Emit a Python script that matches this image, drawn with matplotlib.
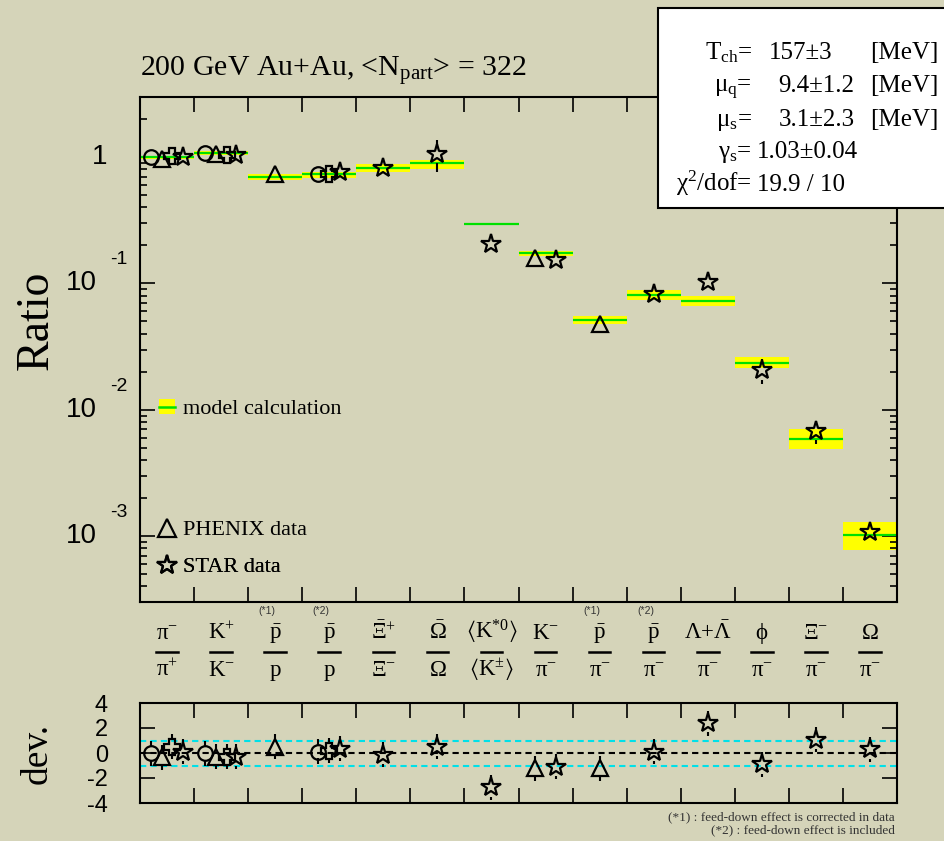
import numpy as np
import matplotlib
matplotlib.use('Agg')
import matplotlib.pyplot as plt
from matplotlib.patches import Rectangle, Patch
from matplotlib.lines import Line2D
from matplotlib.legend_handler import HandlerTuple
import matplotlib.transforms as mtransforms
import matplotlib.ticker as mticker

plt.rcParams['font.family'] = ['Liberation Serif', 'DejaVu Serif']
plt.rcParams['mathtext.fontset'] = 'custom'
plt.rcParams['mathtext.rm'] = 'Liberation Serif'
plt.rcParams['mathtext.it'] = 'Liberation Serif:italic'
plt.rcParams['mathtext.bf'] = 'Liberation Serif:bold'
plt.rcParams['mathtext.fallback'] = 'stix'

# ---------------- data ----------------
numerators = [r'$\mathrm{\pi^{-}}$', r'$\mathrm{K^{+}}$', r'$\mathrm{\bar{p}}$', r'$\mathrm{\bar{p}}$',
              r'$\mathrm{\bar{\Xi}^{+}}$', r'$\mathrm{\bar{\Omega}}$', r'$\mathrm{\langle K^{*0}\rangle}$',
              r'$\mathrm{K^{-}}$', r'$\mathrm{\bar{p}}$', r'$\mathrm{\bar{p}}$',
              r'$\mathrm{\Lambda{+}\bar{\Lambda}}$', r'$\mathrm{\phi}$', r'$\mathrm{\Xi^{-}}$', r'$\mathrm{\Omega}$']
denominators = [r'$\mathrm{\pi^{+}}$', r'$\mathrm{K^{-}}$', r'$\mathrm{p}$', r'$\mathrm{p}$',
                r'$\mathrm{\Xi^{-}}$', r'$\mathrm{\Omega}$', r'$\mathrm{\langle K^{\pm}\rangle}$',
                r'$\mathrm{\pi^{-}}$', r'$\mathrm{\pi^{-}}$', r'$\mathrm{\pi^{-}}$', r'$\mathrm{\pi^{-}}$',
                r'$\mathrm{\pi^{-}}$', r'$\mathrm{\pi^{-}}$', r'$\mathrm{\pi^{-}}$']
notes = ['', '', '(*1)', '(*2)', '', '', '', '', '(*1)', '(*2)', '', '', '', '']

model = [1.00, 1.076, 0.70, 0.73, 0.82, 0.90, 0.298, 0.173, 0.0518, 0.0807, 0.073, 0.0236, 0.00589, 0.00101]
band_lo = [0.975, 1.037, 0.665, 0.690, 0.764, 0.813, 0.298, 0.164, 0.0479, 0.0737, 0.0661, 0.0213, 0.0049, 0.000778]
band_hi = [1.027, 1.122, 0.733, 0.770, 0.885, 0.959, 0.298, 0.182, 0.0557, 0.0896, 0.0803, 0.0262, 0.00703, 0.00129]

# experiment: circle
circ_cat = [0, 1, 3]
circ_off = [0.2, 0.2, 0.3]
circ_val = [1.00, 1.08, 0.73]
circ_err = [0.06, 0.07, 0.05]
circ_dev = [0.0, 0.0, 0.1]

# PHENIX (triangle)
phx_cat = [0, 1, 2, 7, 8]
phx_off = [0.4, 0.4, 0.5, 0.3, 0.5]
phx_val = [0.97, 1.07, 0.73, 0.158, 0.048]
phx_err = [0.06, 0.07, 0.05, 0.012, 0.004]
phx_dev = [-0.35, -0.3, 0.5, -1.2, -1.2]

# cross
crs_cat = [0, 1, 3]
crs_off = [0.6, 0.6, 0.5]
crs_val = [1.02, 1.05, 0.73]
crs_err = [0.08, 0.07, 0.06]
crs_dev = [0.5, -0.3, 0.2]

# STAR (star)
star_cat = [0, 1, 3, 4, 5, 6, 7, 9, 10, 11, 12, 13]
star_off = [0.8, 0.78, 0.7, 0.5, 0.5, 0.5, 0.7, 0.5, 0.5, 0.5, 0.5, 0.5]
star_val = [1.00, 1.04, 0.77, 0.82, 1.06, 0.207, 0.153, 0.082, 0.102, 0.0205, 0.00678, 0.00107]
star_err = [0.07, 0.12, 0.09, 0.12, 0.30, 0.027, 0.012, 0.009, 0.008, 0.0045, 0.0014, 0.00015]
star_dev = [0.1, -0.3, 0.35, -0.15, 0.5, -2.75, -1.1, 0.1, 2.4, -0.9, 1.05, 0.3]
dev_err = 1.0

fit_labels = [r'T$_{\rm ch}$=', r'μ$_{\rm q}$=', r'μ$_{\rm s}$=', r'γ$_{\rm s}$=', r'χ$^{2}$/dof=']
fit_values = ['157±3', '9.4±1.2', '3.1±2.3', '1.03±0.04', '19.9 / 10']
fit_units = ['[MeV]', '[MeV]', '[MeV]', '', '']

ytick_vals = [1e-3, 1e-2, 1e-1, 1.0]
ytick_exps = ['-3', '-2', '-1', '']
dev_ticks = [-4, -2, 0, 2, 4]

# ---------------- style ----------------
W, H = 944, 841
BG = '#d5d4b9'
YEL = '#ffff00'
GRN = '#00e000'
CYAN = '#00e0e8'
SANS = 'Liberation Sans'

fig = plt.figure(figsize=(W / 100, H / 100), dpi=100)
fig.patch.set_facecolor(BG)

def fx(px):
    return px / W

def fy(py):
    return 1 - py / H

ax = fig.add_axes([fx(140), fy(602), (897 - 140) / W, (602 - 97) / H])
axd = fig.add_axes([fx(140), fy(803), (897 - 140) / W, (803 - 703) / H])
for a in (ax, axd):
    a.set_facecolor('none')
    for s in a.spines.values():
        s.set_linewidth(1.5)

idx = np.arange(len(model))
lo = np.array(band_lo)
hi = np.array(band_hi)

# ---- axes setup ----
ax.set_yscale('log')
ax.set_xlim(0, 14)
ax.set_ylim(3e-4, 3)
axd.set_xlim(0, 14)
axd.set_ylim(-4, 4)

ax.bar(idx + 0.5, hi - lo, bottom=lo, width=1.0, color=YEL, lw=0, zorder=1)
ax.hlines(model, idx, idx + 1, colors=GRN, lw=1.6, zorder=2)


def gapped_errors(a, xs, ys, lows, highs, gap_pt):
    """Vertical error bars that stop at the marker edge (ROOT style)."""
    gap_px = gap_pt * fig.dpi / 72.0
    inv = a.transData.inverted()
    for x, y, yl, yh in zip(xs, ys, lows, highs):
        dx, dy = a.transData.transform((x, y))
        y_top = inv.transform((dx, dy + gap_px))[1]
        y_bot = inv.transform((dx, dy - gap_px))[1]
        if yh > y_top:
            a.vlines(x, y_top, yh, colors='k', lw=1.5, zorder=4)
        if yl < y_bot:
            a.vlines(x, yl, y_bot, colors='k', lw=1.5, zorder=4)


series = [
    (circ_cat, circ_off, circ_val, circ_err, circ_dev, 'o', 10.5),
    (phx_cat, phx_off, phx_val, phx_err, phx_dev, '^', 11.5),
    (crs_cat, crs_off, crs_val, crs_err, crs_dev, 'P', 11.5),
    (star_cat, star_off, star_val, star_err, star_dev, '*', 15),
]
for cats, offs, vals, errs, devs, mk, ms in series:
    x = np.array(cats) + np.array(offs)
    v = np.array(vals)
    e = np.array(errs)
    d = np.array(devs)
    gap = ms * 0.45
    ax.plot(x, v, ls='none', marker=mk, ms=ms, mfc='none', mec='k', mew=1.6, zorder=5)
    gapped_errors(ax, x, v, v - e, v + e, gap)
    axd.plot(x, d, ls='none', marker=mk, ms=ms, mfc='none', mec='k', mew=1.6, zorder=5)
    gapped_errors(axd, x, d, d - dev_err, d + dev_err, gap)

ax.set_xticks(np.arange(1, 14))
ax.xaxis.set_minor_locator(mticker.NullLocator())
ax.yaxis.set_major_locator(mticker.FixedLocator(ytick_vals))
ax.yaxis.set_minor_locator(mticker.LogLocator(base=10, subs=np.arange(2, 10), numticks=20))
ax.tick_params(which='both', direction='in', top=True, right=True,
               labelleft=False, labelbottom=False)
ax.tick_params(which='major', length=11, width=1.2)
ax.tick_params(which='minor', length=5, width=1.2)

ytr = ax.get_yaxis_transform()
for v, e in zip(ytick_vals, ytick_exps):
    if e == '':
        ax.text(-0.0436, v, '1', transform=ytr, ha='right', va='center', size=20, family=SANS)
    else:
        ax.text(-0.0568, v, '10', transform=ytr, ha='right', va='center', size=20, family=SANS)
        ax.annotate(e, xy=(-0.0396, v), xycoords=ytr, xytext=(0, 17), textcoords='offset points',
                    ha='left', va='center', size=14, family=SANS)

# category labels
btr = mtransforms.blended_transform_factory(ax.transData, fig.transFigure)
for i in idx:
    c = i + 0.5
    ax.text(c, fy(639), numerators[i], transform=btr, ha='center', va='baseline', size=16.5, clip_on=False)
    ax.text(c, fy(676), denominators[i], transform=btr, ha='center', va='baseline', size=16.5, clip_on=False)
    ax.add_line(Line2D([c - 0.2, c + 0.2], [fy(652), fy(652)], transform=btr, color='k', lw=1.8, clip_on=False))
    if notes[i]:
        ax.text(c - 0.15, fy(611), notes[i], transform=btr, ha='center', va='center', size=7.5,
                family=SANS, color='#333333', clip_on=False)

# legends
def add_leg(handle, label, ypix, hl=0.7, hmap=None):
    leg = ax.legend([handle], [label], loc='center left',
                    bbox_to_anchor=((159 - 140) / 757, (602 - ypix) / 505),
                    frameon=False, borderpad=0, borderaxespad=0, handlelength=hl,
                    handletextpad=0.4, prop={'family': 'Liberation Serif', 'size': 16},
                    handler_map=hmap)
    ax.add_artist(leg)

add_leg((Patch(fc=YEL, ec='none'), Line2D([], [], color=GRN, lw=1.8)), 'model calculation', 409,
        hmap={tuple: HandlerTuple(ndivide=1, pad=0)})
add_leg(Line2D([], [], ls='none', marker='^', ms=12.5, mfc='none', mec='k', mew=1.6), 'PHENIX data', 530)
add_leg(Line2D([], [], ls='none', marker='*', ms=15, mfc='none', mec='k', mew=1.6), 'STAR data', 567)

# ---- deviation panel ----
axd.axhline(0, color='k', ls=(0, (3, 2)), lw=1.5, zorder=2)
axd.axhline(1, color=CYAN, ls=(0, (3, 2)), lw=1.5, zorder=2)
axd.axhline(-1, color=CYAN, ls=(0, (3, 2)), lw=1.5, zorder=2)
axd.set_xticks(np.arange(1, 14))
axd.set_yticks(dev_ticks)
axd.set_yticklabels([str(t) for t in dev_ticks], family=SANS, size=17)
axd.tick_params(which='both', direction='in', top=True, right=True, labelbottom=False)
axd.tick_params(which='major', length=11, width=1.2, pad=23)

# ---- texts ----
fig.text(fx(140), fy(76), r'200 GeV Au+Au, <N$_{\rm part}$> = 322', size=21.5, va='baseline')
fig.text(fx(36), fy(320), 'Ratio', rotation=90, size=33, ha='center', va='center')
fig.text(fx(37), fy(753), 'dev.', rotation=90, size=27, ha='center', va='center')
fig.text(fx(895), fy(817), '(*1) : feed-down effect is corrected in data', ha='right', va='center',
         size=9.5, color='#333333')
fig.text(fx(895), fy(830), '(*2) : feed-down effect is included', ha='right', va='center',
         size=9.5, color='#333333')

# fit result box
fig.add_artist(Rectangle((fx(658), fy(208)), (W - 658 + 10) / W, 200 / H, transform=fig.transFigure,
                         fc='white', ec='k', lw=1.5, zorder=5, clip_on=False))
baselines = [59, 92, 126, 158, 191]
val_x = [769, 778, 779, 757, 757]
for lab, val, unit, b, vx in zip(fit_labels, fit_values, fit_units, baselines, val_x):
    fig.text(fx(752), fy(b), lab, ha='right', va='baseline', size=18, zorder=6)
    fig.text(fx(vx), fy(b), val, ha='left', va='baseline', size=18, zorder=6)
    if unit:
        fig.text(fx(870), fy(b), unit, ha='left', va='baseline', size=18, zorder=6)

fig.savefig('out.png', dpi=100, facecolor=BG)
